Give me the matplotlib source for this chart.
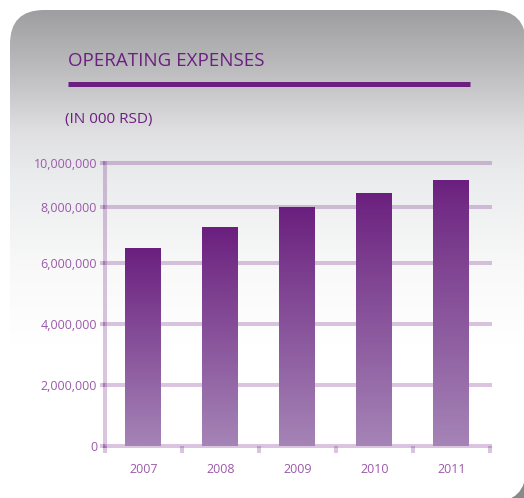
import numpy as np
import matplotlib
matplotlib.use('Agg')
import matplotlib.pyplot as plt
from matplotlib.patches import FancyBboxPatch, Rectangle
from matplotlib.colors import LinearSegmentedColormap
from matplotlib.ticker import FixedLocator

# operating expenses, in thousands of RSD
years = ['2007', '2008', '2009', '2010', '2011']
expenses = [6540000, 7290000, 8000000, 8640000, 9270000]

y_ticks = [0, 2000000, 4000000, 6000000, 8000000, 10000000]
y_tick_labels = ['0', '2,000,000', '4,000,000', '6,000,000', '8,000,000', '10,000,000']

title = 'OPERATING EXPENSES'
subtitle = '(IN 000 RSD)'

# the value axis is not evenly spaced - gridline heights in pixels
grid_px = [0, 61, 122, 183, 239, 283]

purple = '#6b1f7f'
label_purple = '#9b5aaa'
grid_col = (0.48, 0.18, 0.56, 0.28)

plt.rcParams['font.family'] = ['Open Sans', 'DejaVu Sans']

W, H = 524, 498
fig = plt.figure(figsize=(W / 100, H / 100), dpi=100)
fig.patch.set_facecolor('white')

# background card, pixel coordinates
bg = fig.add_axes([0, 0, 1, 1], zorder=-1)
bg.set_xlim(0, W)
bg.set_ylim(H, 0)
bg.axis('off')

bg.add_patch(Rectangle((470, 440), 60, 60, color='#8a8a8a', zorder=0))
card = FancyBboxPatch((10, 10), 516, 492, boxstyle='round,pad=0,rounding_size=34',
                      facecolor='white', edgecolor='none', zorder=1)
bg.add_patch(card)
card_cmap = LinearSegmentedColormap.from_list('card', [
    (0.0, (0.62, 0.62, 0.63)),
    (0.12, (0.74, 0.74, 0.75)),
    (0.25, (0.88, 0.88, 0.89)),
    (0.34, (0.92, 0.925, 0.93)),
    (0.52, (0.975, 0.975, 0.975)),
    (0.68, (1, 1, 1)),
    (1.0, (1, 1, 1))])
grad = np.linspace(0, 1, 256).reshape(-1, 1)
im = bg.imshow(grad, extent=(10, 526, 502, 10), cmap=card_cmap, aspect='auto',
               origin='upper', zorder=2)
im.set_clip_path(card)
bg.set_xlim(0, W)
bg.set_ylim(H, 0)

bg.text(68, 66, title, fontsize=13.5, color=purple, va='baseline', ha='left', zorder=3)
bg.plot([68, 470], [83.5, 83.5], color=purple, lw=3.6, solid_capstyle='butt', zorder=3)
bg.text(65, 123, subtitle, fontsize=11, color=purple, va='baseline', ha='left', zorder=3)

# chart area
ax = fig.add_axes([105 / W, 52 / H, 385 / W, 283 / H])
ax.patch.set_alpha(0)


def fwd(v):
    return np.interp(v, y_ticks, grid_px)


def inv(p):
    return np.interp(p, grid_px, y_ticks)


ax.set_yscale('function', functions=(fwd, inv))

x = np.arange(len(years))
bar_w = 0.48
bars = ax.bar(x, expenses, width=bar_w, color='none', edgecolor='none', zorder=3)

bar_cmap = LinearSegmentedColormap.from_list('bar', ['#a584b6', '#6a1f7e'])
for rect in bars:
    x0 = rect.get_x()
    h = rect.get_height()
    g = ax.imshow(np.linspace(1, 0, 256).reshape(-1, 1), extent=(x0, x0 + bar_w, 0, h),
                  cmap=bar_cmap, aspect='auto', origin='upper', zorder=3)
    g.set_clip_path(rect)

ax.set_xlim(-0.5, len(years) - 0.5)
ax.set_ylim(0, 10000000)

# horizontal gridlines
for v in y_ticks:
    ax.axhline(v, color=grid_col, lw=2.9, zorder=1, clip_on=False)

ax.set_yticks(y_ticks)
ax.set_yticklabels(y_tick_labels)
ax.set_xticks(x)
ax.set_xticklabels(years)
ax.xaxis.set_minor_locator(FixedLocator(np.arange(-0.5, len(years), 1.0)))

ax.tick_params(axis='y', length=3.6, width=2.9, color=grid_col, labelcolor=label_purple,
               labelsize=9, pad=2)
ax.tick_params(axis='x', which='major', length=0, labelcolor=label_purple, labelsize=9, pad=12)
ax.tick_params(axis='x', which='minor', length=5, width=2.9, color=grid_col)

for s in ['top', 'right', 'bottom']:
    ax.spines[s].set_visible(False)
ax.spines['left'].set_color(grid_col)
ax.spines['left'].set_linewidth(2.9)

fig.savefig('out.png', dpi=100)
